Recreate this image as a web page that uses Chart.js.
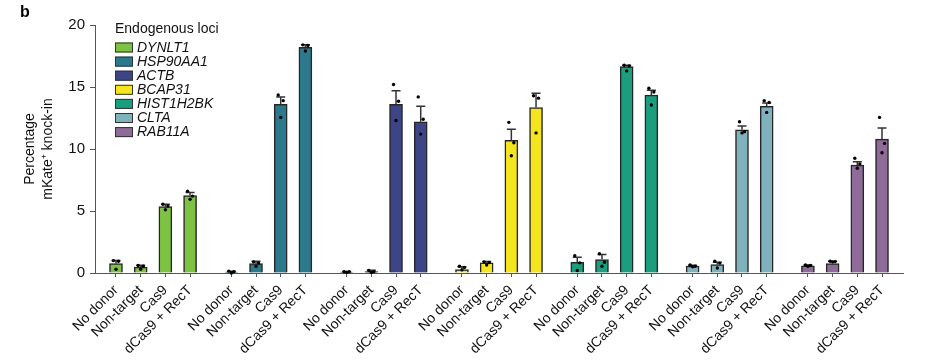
<!DOCTYPE html>
<html>
<head>
<meta charset="utf-8">
<script src="https://cdn.jsdelivr.net/npm/chart.js@4/dist/chart.umd.min.js"></script>
<style>
html,body{margin:0;padding:0;background:#fff;}
#wrap{width:929px;height:361px;position:relative;}
</style>
</head>
<body>
<div id="wrap"><canvas id="c" width="929" height="361"></canvas></div>
<script>
// ---- DATA ----
const conditions = ['No donor', 'Non-target', 'Cas9', 'dCas9 + RecT'];
const loci = ['DYNLT1', 'HSP90AA1', 'ACTB', 'BCAP31', 'HIST1H2BK', 'CLTA', 'RAB11A'];
const yTicks = [0, 5, 10, 15, 20];

// mean percentage per condition
const meanDYNLT1    = [0.75, 0.48, 5.35, 6.25];
const meanHSP90AA1  = [0.08, 0.75, 13.6, 18.2];
const meanACTB      = [0.08, 0.12, 13.6, 12.2];
const meanBCAP31    = [0.28, 0.82, 10.7, 13.35];
const meanHIST1H2BK = [0.87, 1.08, 16.64, 14.34];
const meanCLTA      = [0.55, 0.68, 11.55, 13.45];
const meanRAB11A    = [0.58, 0.76, 8.7, 10.8];

// s.e.m. (upper error bar)
const semDYNLT1    = [0.25, 0.14, 0.2, 0.25];
const semHSP90AA1  = [0.07, 0.2, 0.6, 0.2];
const semACTB      = [0.05, 0.1, 1.1, 1.25];
const semBCAP31    = [0.22, 0.1, 0.9, 1.15];
const semHIST1H2BK = [0.4, 0.41, 0.11, 0.4];
const semCLTA      = [0.07, 0.19, 0.3, 0.25];
const semRAB11A    = [0.07, 0.19, 0.28, 0.89];

// individual replicates
const repsDYNLT1    = [[1.0, 0.95, 0.3], [0.6, 0.55, 0.3], [5.55, 5.4, 5.1], [6.6, 6.2, 5.95]];
const repsHSP90AA1  = [[0.15, 0.1, 0.0], [0.9, 0.8, 0.55], [14.35, 13.9, 12.55], [18.4, 18.35, 17.9]];
const repsACTB      = [[0.1, 0.1, 0.05], [0.2, 0.1, 0.05], [15.2, 13.85, 12.3], [14.2, 12.4, 11.2]];
const repsBCAP31    = [[0.55, 0.45, 0.25], [0.9, 0.85, 0.65], [12.15, 10.5, 9.45], [14.3, 14.1, 11.3]];
const repsHIST1H2BK = [[1.4, 0.82, 0.2], [1.55, 0.87, 0.55], [16.75, 16.7, 16.3], [14.9, 14.6, 13.55]];
const repsCLTA      = [[0.65, 0.55, 0.5], [0.95, 0.8, 0.4], [12.2, 11.4, 11.3], [13.9, 13.75, 12.95]];
const repsRAB11A    = [[0.65, 0.6, 0.55], [0.95, 0.92, 0.9], [9.25, 8.8, 8.45], [12.55, 10.45, 9.7]];

// ---- STYLE / LAYOUT ----
const colors = ['#7DC242', '#2C798C', '#3E4587', '#F5E51E', '#1A9E7E', '#80B2BD', '#8E6B99'];
const GROUP_STRIDE = 4.67;
const FONT = '"Liberation Sans", Arial, sans-serif';

const means = [meanDYNLT1, meanHSP90AA1, meanACTB, meanBCAP31, meanHIST1H2BK, meanCLTA, meanRAB11A];
const sems = [semDYNLT1, semHSP90AA1, semACTB, semBCAP31, semHIST1H2BK, semCLTA, semRAB11A];
const reps = [repsDYNLT1, repsHSP90AA1, repsACTB, repsBCAP31, repsHIST1H2BK, repsCLTA, repsRAB11A];

const xPos = (g, i) => g * GROUP_STRIDE + i;
const tickPositions = [];
loci.forEach((l, g) => conditions.forEach((c, i) => tickPositions.push(xPos(g, i))));

const datasets = loci.map((name, g) => ({
  label: name,
  data: means[g].map((v, i) => ({ x: xPos(g, i), y: v })),
  backgroundColor: colors[g],
  borderColor: '#262626',
  borderWidth: 1.5,
  borderSkipped: 'bottom',
  barThickness: 13,
  grouped: false
}));

const extrasPlugin = {
  id: 'extras',
  afterDatasetsDraw(chart) {
    const ctx = chart.ctx;
    const xs = chart.scales.x, ys = chart.scales.y;
    ctx.save();
    const jitter = [-2.5, 2.5, 0];
    loci.forEach((name, g) => {
      means[g].forEach((m, i) => {
        const px = xs.getPixelForValue(xPos(g, i));
        const yTop = ys.getPixelForValue(m);
        const yErr = ys.getPixelForValue(m + sems[g][i]);
        ctx.strokeStyle = '#333';
        ctx.lineWidth = 1.5;
        ctx.beginPath();
        ctx.moveTo(px, yTop);
        ctx.lineTo(px, yErr);
        ctx.moveTo(px - 4.5, yErr);
        ctx.lineTo(px + 4.5, yErr);
        ctx.stroke();
        ctx.fillStyle = '#000';
        reps[g][i].forEach((r, k) => {
          ctx.beginPath();
          ctx.arc(px + jitter[k], ys.getPixelForValue(r), 1.7, 0, Math.PI * 2);
          ctx.fill();
        });
      });
    });
    // legend
    const lx = 115, ly0 = 47.5, step = 14.1;
    ctx.fillStyle = '#111';
    ctx.font = '14px ' + FONT;
    ctx.textBaseline = 'middle';
    ctx.textAlign = 'left';
    ctx.fillText('Endogenous loci', lx, 29);
    ctx.font = 'italic 14px ' + FONT;
    loci.forEach((name, g) => {
      const cy = ly0 + g * step;
      ctx.fillStyle = colors[g];
      ctx.fillRect(lx, cy - 5, 18, 10);
      ctx.strokeStyle = '#333';
      ctx.lineWidth = 1;
      ctx.strokeRect(lx + 0.5, cy - 4.5, 17, 9);
      ctx.fillStyle = '#111';
      ctx.fillText(name, lx + 22, cy + 0.5);
    });
    // panel letter
    ctx.font = 'bold 16px ' + FONT;
    ctx.fillStyle = '#000';
    ctx.fillText('b', 20, 13);
    ctx.restore();
  }
};

new Chart(document.getElementById('c'), {
  type: 'bar',
  data: { datasets },
  options: {
    responsive: false,
    animation: false,
    layout: { padding: { top: 25, right: 26, left: 0, bottom: 0 } },
    plugins: { legend: { display: false }, tooltip: { enabled: false } },
    scales: {
      x: {
        type: 'linear',
        offset: false,
        min: -0.85,
        max: 6 * GROUP_STRIDE + 3 + 0.85,
        afterBuildTicks(axis) { axis.ticks = tickPositions.map(v => ({ value: v })); },
        afterFit(scale) { scale.height = 88; },
        ticks: {
          autoSkip: false,
          minRotation: 45,
          maxRotation: 45,
          padding: 5,
          color: '#111',
          font: { family: FONT, size: 14 },
          callback: (v, idx) => conditions[idx % conditions.length]
        },
        grid: { drawOnChartArea: false, offset: false, tickLength: 4, color: '#555' },
        border: { color: '#555', width: 1 }
      },
      y: {
        min: 0,
        max: 20,
        afterBuildTicks(axis) { axis.ticks = yTicks.map(v => ({ value: v })); },
        afterFit(scale) { scale.width = 95; },
        ticks: { color: '#111', padding: 5, font: { family: FONT, size: 15 } },
        grid: { drawOnChartArea: false, tickLength: 5, color: '#555' },
        border: { color: '#555', width: 1 },
        title: {
          display: true,
          text: ['Percentage', 'mKate\u207A knock-in'],
          color: '#111',
          font: { family: FONT, size: 14, lineHeight: 1.28 },
          padding: { top: 21, bottom: 0 }
        }
      }
    }
  },
  plugins: [extrasPlugin]
});
</script>
</body>
</html>
